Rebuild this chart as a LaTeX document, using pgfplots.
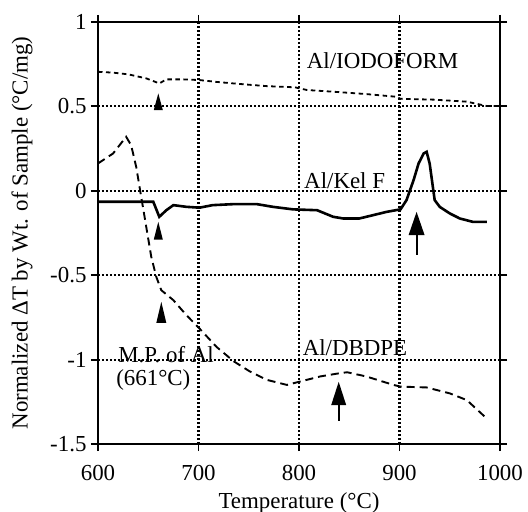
\documentclass[border=0pt]{standalone}
\usepackage{fontspec}
\setmainfont{Liberation Serif}
\usepackage{pgfplots}
\pgfplotsset{compat=1.18}
\usetikzlibrary{arrows.meta}
\begin{document}
\begin{tikzpicture}[font=\fontsize{23}{27}\selectfont]
\useasboundingbox (-98bp,-68bp) rectangle (430bp,444bp);
\begin{axis}[
  at={(0,0)}, anchor=south west,
  width=402bp, height=422bp, scale only axis,
  xmin=600, xmax=1000, ymin=-1.5, ymax=1,
  xtick={600,700,800,900,1000},
  ytick={-1.5,-1,-0.5,0,0.5,1},
  yticklabels={-1.5,-1,-0.5,0,0.5,1},
  xticklabels={600,700,800,900,1000},
  tick align=outside, major tick length=7bp,
  tick style={line width=1.8bp, black},
  grid=major,
  major grid style={line width=2.2bp, black, dash pattern=on 2bp off 2bp},
  axis line style={line width=2.4bp},
  clip=false,
  xlabel={Temperature (°C)},
  ylabel={Normalized ΔT by Wt. of Sample (°C/mg)},
  xlabel style={at={(axis description cs:0.5,0)}, anchor=base, yshift=-64bp},
  ylabel style={at={(axis description cs:-0.189,0.5)}, anchor=center},
  x tick label style={yshift=-11bp},
  y tick label style={xshift=-1bp},
  /pgf/number format/assume math mode=true,
]
% Al/IODOFORM
\addplot[black, line width=1.8bp, dash pattern=on 4.5bp off 3.5bp] coordinates {
(600,0.705) (615,0.70) (630,0.69) (648,0.666) (655,0.65) (661,0.636) (668,0.66) (685,0.66) (701,0.656)
(718,0.645) (735,0.636) (751,0.628) (768,0.62) (796,0.613) (808,0.597) (834,0.587) (867,0.573)
(897,0.557) (901,0.545) (934,0.54) (967,0.528) (987,0.502) (1000,0.502)
};
% Al/Kel F
\addplot[black, line width=2.6bp] coordinates {
(600,-0.065) (640,-0.065) (655,-0.065) (661,-0.154) (668,-0.115) (675,-0.085) (688,-0.095)
(701,-0.10) (714,-0.085) (735,-0.079) (758,-0.079) (774,-0.095) (794,-0.11) (818,-0.115)
(834,-0.154) (844,-0.164) (860,-0.164) (874,-0.144) (887,-0.125) (901,-0.11) (907,-0.055)
(914,0.063) (919,0.162) (924,0.221) (927,0.231) (930,0.162) (935,-0.055) (940,-0.095)
(950,-0.134) (960,-0.164) (973,-0.184) (987,-0.184)
};
% Al/DBDPE
\addplot[black, line width=1.9bp, dash pattern=on 8bp off 5bp] coordinates {
(600,0.162) (615,0.221) (628,0.32) (633,0.27) (638,0.142) (643,-0.036) (648,-0.213)
(653,-0.391) (658,-0.51) (663,-0.589) (675,-0.648) (688,-0.737) (701,-0.816) (718,-0.925)
(735,-1.01) (751,-1.07) (768,-1.12) (788,-1.15) (801,-1.13) (821,-1.10) (841,-1.08)
(848,-1.075) (867,-1.10) (894,-1.15) (901,-1.16) (927,-1.165) (950,-1.20) (967,-1.24) (987,-1.35)
};
% triangles
\fill (axis cs:655.5,0.478) -- (axis cs:664.5,0.478) -- (axis cs:660,0.577) -- cycle;
\fill (axis cs:655.5,-0.289) -- (axis cs:664.5,-0.289) -- (axis cs:660,-0.184) -- cycle;
\fill (axis cs:658,-0.783) -- (axis cs:668,-0.783) -- (axis cs:663,-0.658) -- cycle;
% arrows
\fill (axis cs:909,-0.263) -- (axis cs:925,-0.263) -- (axis cs:917,-0.125) -- cycle;
\draw[line width=2bp] (axis cs:917,-0.26) -- (axis cs:917,-0.381);
\fill (axis cs:832,-1.27) -- (axis cs:847,-1.27) -- (axis cs:839.5,-1.132) -- cycle;
\draw[line width=2bp] (axis cs:839.5,-1.26) -- (axis cs:839.5,-1.363);
% labels
\node[anchor=base west, inner sep=0] at (axis cs:807.6,0.725) {Al/IODOFORM};
\node[anchor=base west, inner sep=0] at (axis cs:805,0.014) {Al/Kel F};
\node[anchor=base west, inner sep=0] at (axis cs:803.6,-0.974) {Al/DBDPE};
\node[anchor=base west, inner sep=0] at (axis cs:620,-1.015) {M.P. of Al};
\node[anchor=base west, inner sep=0] at (axis cs:618,-1.155) {(661°C)};
\end{axis}
\end{tikzpicture}
\end{document}
